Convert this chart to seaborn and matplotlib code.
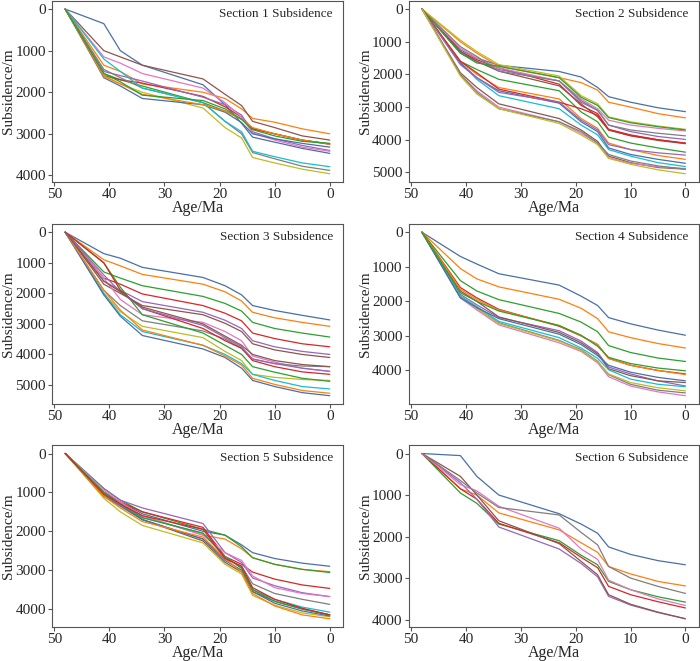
import numpy as np
import pandas as pd
import matplotlib
matplotlib.use("Agg")
import matplotlib.pyplot as plt
from matplotlib.ticker import MultipleLocator
import seaborn as sns

# ages of the subsidence horizons (Ma)
ages = [48, 41, 38, 34, 23, 19, 16, 14, 10, 5, 0]

section1 = [
    [0, 350, 1000, 1350, 1820, 2300, 2750, 3080, 3200, 3350, 3470],
    [0, 1350, 1500, 1800, 2000, 2150, 2400, 2630, 2720, 2880, 3000],
    [0, 1550, 1700, 1850, 2250, 2450, 2650, 2870, 3000, 3150, 3240],
    [0, 1600, 1700, 1780, 2100, 2350, 2600, 2880, 3000, 3150, 3250],
    [0, 1500, 1600, 1730, 2120, 2300, 2550, 2950, 3120, 3280, 3400],
    [0, 1000, 1150, 1350, 1680, 2050, 2320, 2700, 2850, 3050, 3150],
    [0, 1150, 1300, 1550, 1900, 2250, 2600, 2980, 3150, 3320, 3420],
    [0, 1450, 1650, 1900, 2250, 2700, 3000, 3450, 3600, 3780, 3880],
    [0, 1600, 1800, 2000, 2380, 2850, 3100, 3570, 3700, 3850, 3960],
    [0, 1200, 1500, 1900, 2250, 2700, 2950, 3420, 3550, 3700, 3790],
    [0, 1650, 1850, 2150, 2300, 2480, 2730, 3000, 3120, 3230, 3320],
    [0, 1620, 1800, 2050, 2300, 2450, 2650, 2850, 3000, 3150, 3250],
    [0, 1550, 1750, 2070, 2200, 2400, 2650, 2900, 3050, 3180, 3230],
]

section2 = [
    [0, 1250, 1500, 1720, 1910, 2080, 2400, 2680, 2850, 3020, 3140],
    [0, 1000, 1350, 1750, 2100, 2250, 2480, 2850, 3000, 3200, 3330],
    [0, 1600, 1850, 2150, 2500, 3150, 3450, 3920, 4100, 4250, 4380],
    [0, 1300, 1550, 1800, 2300, 2950, 3200, 3680, 3850, 4000, 4110],
    [0, 1350, 1600, 1850, 2200, 2850, 3100, 3550, 3750, 3900, 3990],
    [0, 1300, 1600, 1900, 2350, 2900, 3300, 3700, 3880, 4020, 4120],
    [0, 1200, 1500, 1800, 2200, 2750, 3050, 3400, 3550, 3650, 3730],
    [0, 1150, 1450, 1900, 2200, 2800, 3100, 3550, 3700, 3800, 3880],
    [0, 950, 1300, 1700, 2050, 2650, 2900, 3300, 3450, 3580, 3680],
    [0, 1650, 2150, 2650, 3050, 3550, 3850, 4300, 4500, 4700, 4820],
    [0, 1650, 2100, 2500, 2880, 3450, 3750, 4250, 4450, 4600, 4720],
    [0, 1600, 2000, 2400, 2750, 3350, 3650, 4100, 4300, 4480, 4600],
    [0, 1350, 1650, 1750, 2100, 2700, 2950, 3320, 3480, 3600, 3700],
    [0, 1600, 1950, 2450, 2850, 3050, 3250, 3700, 3870, 4000, 4100],
    [0, 1700, 2100, 2550, 2850, 3400, 3700, 4150, 4300, 4400, 4470],
    [0, 1950, 2400, 2900, 3350, 3700, 4050, 4500, 4700, 4850, 4900],
    [0, 2000, 2500, 3000, 3450, 3800, 4100, 4550, 4720, 4830, 4880],
    [0, 2000, 2550, 3050, 3450, 3750, 4100, 4450, 4650, 4800, 4900],
    [0, 2050, 2600, 3050, 3500, 3850, 4150, 4570, 4750, 4920, 5040],
]

section3 = [
    [0, 700, 850, 1150, 1480, 1750, 2050, 2400, 2560, 2720, 2870],
    [0, 900, 1100, 1380, 1700, 1950, 2250, 2620, 2800, 2950, 3080],
    [0, 1300, 1500, 1750, 2100, 2330, 2580, 2950, 3150, 3300, 3430],
    [0, 1500, 1700, 2020, 2400, 2650, 2900, 3300, 3480, 3650, 3750],
    [0, 1600, 1900, 2270, 2620, 2880, 3150, 3550, 3750, 3900, 4000],
    [0, 1700, 2000, 2400, 2700, 2980, 3250, 3650, 3850, 4000, 4100],
    [0, 1500, 2200, 2700, 2950, 3250, 3550, 4050, 4250, 4450, 4560],
    [0, 1900, 2400, 2900, 3230, 3500, 3800, 4150, 4300, 4380, 4400],
    [0, 2000, 2600, 3080, 3450, 3900, 4200, 4650, 4750, 4820, 4850],
    [0, 2000, 2700, 3250, 3700, 4000, 4300, 4650, 4850, 5050, 5130],
    [0, 2050, 2750, 3380, 3820, 4100, 4450, 4850, 5050, 5250, 5350],
    [0, 1900, 2550, 3200, 3700, 4050, 4350, 4780, 4980, 5180, 5270],
    [0, 1000, 1800, 2700, 3300, 3700, 4000, 4400, 4580, 4780, 4880],
    [0, 1000, 1900, 2500, 3150, 3550, 3800, 4200, 4400, 4570, 4650],
    [0, 1400, 1950, 2500, 3050, 3450, 3750, 4150, 4300, 4450, 4550],
    [0, 1600, 1950, 2450, 3000, 3400, 3700, 4000, 4200, 4330, 4400],
]

section4 = [
    [0, 700, 920, 1200, 1530, 1850, 2120, 2470, 2650, 2830, 2980],
    [0, 1050, 1350, 1580, 1940, 2200, 2500, 2880, 3050, 3220, 3350],
    [0, 1400, 1700, 1950, 2350, 2600, 2880, 3280, 3480, 3640, 3740],
    [0, 1600, 1900, 2230, 2720, 3000, 3250, 3650, 3850, 4000, 4100],
    [0, 1800, 2100, 2470, 2850, 3150, 3480, 3900, 4100, 4300, 4450],
    [0, 1700, 2000, 2450, 2900, 3200, 3520, 3950, 4150, 4300, 4350],
    [0, 1900, 2250, 2680, 3200, 3450, 3780, 4180, 4450, 4620, 4730],
    [0, 1850, 2200, 2620, 3130, 3400, 3730, 4120, 4400, 4570, 4650],
    [0, 1850, 2200, 2640, 3150, 3420, 3750, 4100, 4350, 4500, 4590],
    [0, 1850, 2150, 2580, 3050, 3350, 3650, 3980, 4250, 4400, 4470],
    [0, 1900, 2180, 2500, 2950, 3250, 3570, 3850, 4050, 4200, 4300],
    [0, 1650, 1950, 2250, 2700, 3000, 3250, 3650, 3850, 4000, 4120],
    [0, 1750, 2000, 2280, 2700, 2980, 3300, 3620, 3800, 3930, 4010],
]

section5 = [
    [0, 1000, 1250, 1550, 2000, 2100, 2350, 2550, 2700, 2820, 2900],
    [0, 1050, 1300, 1600, 2100, 2200, 2450, 2680, 2850, 2980, 3040],
    [0, 900, 1200, 1500, 1950, 2100, 2400, 2680, 2850, 2980, 3060],
    [0, 1000, 1250, 1500, 1900, 2650, 2850, 3050, 3230, 3380, 3470],
    [0, 900, 1200, 1400, 1800, 2550, 2800, 3200, 3400, 3580, 3680],
    [0, 1000, 1300, 1700, 2250, 2800, 3050, 3550, 3800, 4000, 4150],
    [0, 950, 1250, 1600, 2100, 2550, 2750, 3150, 3450, 3600, 3680],
    [0, 1050, 1350, 1700, 2200, 2700, 2900, 3350, 3600, 3750, 3880],
    [0, 1150, 1500, 1850, 2300, 2850, 3100, 3650, 3900, 4100, 4200],
    [0, 1050, 1300, 1650, 2050, 2650, 2950, 3500, 3750, 3950, 4080],
    [0, 1100, 1350, 1700, 2200, 2750, 3000, 3550, 3850, 4050, 4180],
    [0, 1100, 1400, 1750, 2150, 2700, 3050, 3600, 3920, 4150, 4250],
    [0, 1000, 1300, 1650, 2050, 2650, 2950, 3500, 3800, 4000, 4150],
    [0, 1050, 1300, 1600, 1950, 2700, 2900, 3450, 3750, 3980, 4150],
]

section6 = [
    [0, 50, 550, 1000, 1450, 1700, 1920, 2250, 2430, 2580, 2680],
    [0, 850, 1000, 1430, 1840, 2150, 2380, 2720, 2900, 3080, 3190],
    [0, 950, 1200, 1700, 2100, 2450, 2680, 3080, 3280, 3450, 3580],
    [0, 850, 1100, 1680, 2150, 2500, 2750, 3200, 3400, 3570, 3720],
    [0, 700, 1100, 1770, 2300, 2650, 2970, 3440, 3650, 3830, 3980],
    [0, 550, 1000, 1620, 2170, 2600, 2920, 3400, 3630, 3820, 3980],
    [0, 750, 900, 1270, 1800, 2300, 2550, 3050, 3280, 3500, 3660],
    [0, 650, 950, 1300, 1480, 1900, 2200, 2720, 3000, 3200, 3370],
]

sections = [section1, section2, section3, section4, section5, section6]
titles = ["Section %d Subsidence" % (i + 1) for i in range(6)]

sns.set_style("ticks")
plt.rcParams['font.family'] = ['Liberation Serif', 'DejaVu Serif']
plt.rcParams['font.size'] = 9

# tab10 with a slightly duller blue, as in the figure
colors = list(sns.color_palette("tab10"))
colors[0] = "#4a6fa8"

fig = plt.figure(figsize=(7, 6.61), dpi=100)

# axes boxes in figure fractions [left, bottom, width, height]
col_left = [0.0743, 0.584]
col_width = [0.4157, 0.414]
row_bottom = [0.7247, 0.389, 0.0514]
row_height = [0.274, 0.272, 0.275]

for i, wells in enumerate(sections):
    r, c = divmod(i, 2)
    ax = fig.add_axes([col_left[c], row_bottom[r], col_width[c], row_height[r]])

    rows = []
    for j, depths in enumerate(wells):
        for a, d in zip(ages, depths):
            rows.append({"well": j, "age": a, "depth": d})
    df = pd.DataFrame(rows)
    pal = {j: colors[j % 10] for j in range(len(wells))}

    sns.lineplot(data=df, x="age", y="depth", hue="well", palette=pal,
                 legend=False, linewidth=0.9, ax=ax)

    ax.invert_xaxis()
    ax.invert_yaxis()
    ax.xaxis.set_major_locator(MultipleLocator(10))
    ax.yaxis.set_major_locator(MultipleLocator(1000))
    ax.set_xlabel("Age/Ma", fontsize=11.5, labelpad=-1)
    ax.set_ylabel("Subsidence/m", fontsize=11, labelpad=0)
    ax.tick_params(labelsize=11, length=3, pad=1.5, color="#555555")
    for s in ax.spines.values():
        s.set_color("#555555")
        s.set_linewidth(0.8)
    ax.text(0.965, 0.93, titles[i], transform=ax.transAxes,
            ha="right", va="center", fontsize=9.5)

fig.savefig("out.png", dpi=100)
